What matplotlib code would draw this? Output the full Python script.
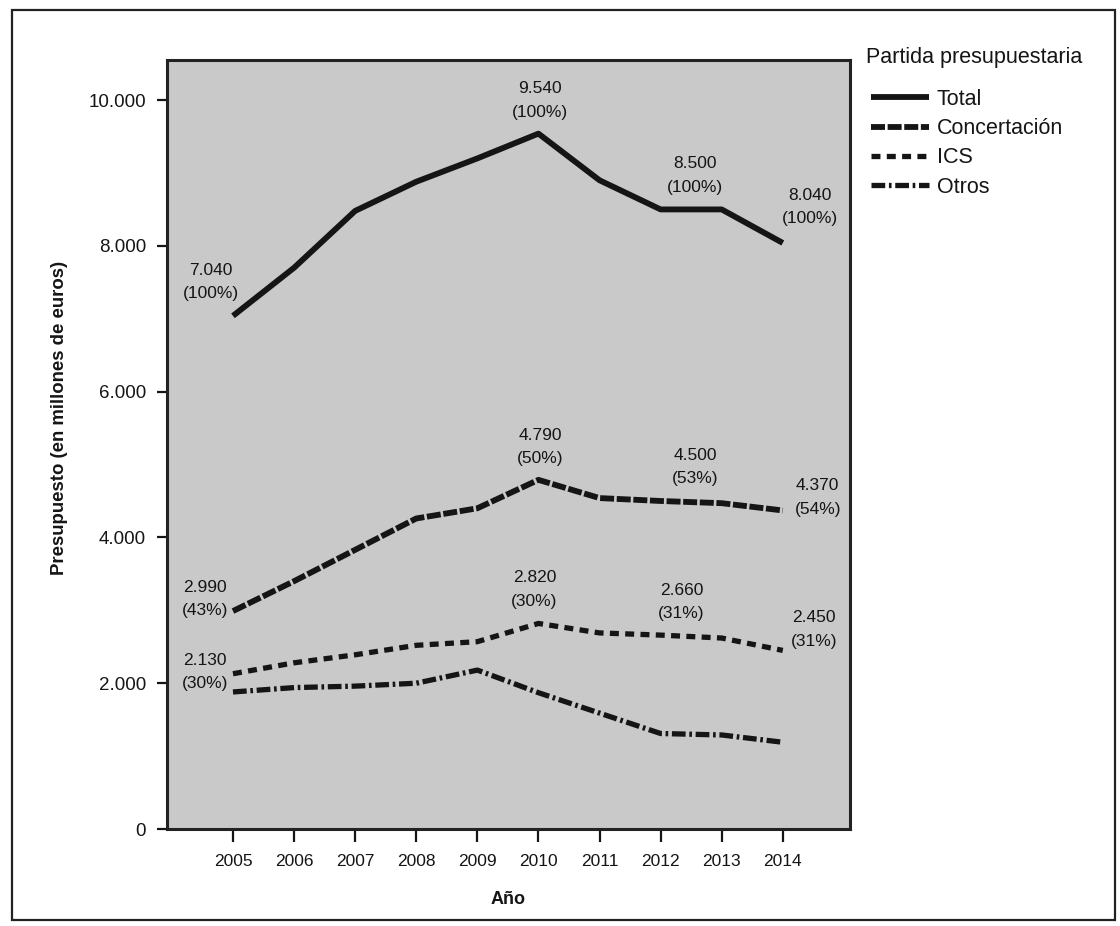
import matplotlib
matplotlib.use("Agg")
import matplotlib.pyplot as plt
from matplotlib.patches import Rectangle

# Budget by line item, in millions of euros
years = [2005, 2006, 2007, 2008, 2009, 2010, 2011, 2012, 2013, 2014]
total = [7040, 7700, 8480, 8880, 9200, 9540, 8900, 8500, 8500, 8040]
concertacion = [2990, 3400, 3830, 4260, 4400, 4790, 4540, 4500, 4470, 4370]
ics = [2130, 2280, 2390, 2520, 2570, 2820, 2690, 2660, 2620, 2450]
otros = [1880, 1940, 1960, 2000, 2180, 1870, 1590, 1310, 1290, 1190]

series_names = ["Total", "Concertación", "ICS", "Otros"]

# Annotated points: (series index, year, share of total)
labelled = [
    (0, 2005, "100%"), (0, 2010, "100%"), (0, 2012, "100%"), (0, 2014, "100%"),
    (1, 2005, "43%"), (1, 2010, "50%"), (1, 2012, "53%"), (1, 2014, "54%"),
    (2, 2005, "30%"), (2, 2010, "30%"), (2, 2012, "31%"), (2, 2014, "31%"),
]

y_ticks = [0, 2000, 4000, 6000, 8000, 10000]
y_tick_labels = ["0", "2.000", "4.000", "6.000", "8.000", "10.000"]
x_tick_labels = [str(y) for y in years]

plt.rcParams["font.family"] = ["Liberation Sans", "DejaVu Sans"]
ink = "#151515"

fig = plt.figure(figsize=(11.2, 9.26), dpi=100)
fig.patch.set_facecolor("white")

# outer frame around the whole figure
fig.patches.append(Rectangle((12 / 1120, 1 - 920 / 926), (1115 - 12) / 1120,
                             (920 - 10) / 926, transform=fig.transFigure,
                             fill=False, edgecolor="#222222", linewidth=1.6))

ax = fig.add_axes([167 / 1120, 1 - 829 / 926, (850 - 167) / 1120, (829 - 60) / 926])
ax.set_facecolor("#c9c9c9")

styles = [
    dict(linestyle="-", linewidth=4.2),
    dict(linestyle=(0, (2.4, 0.45)), linewidth=4.2),
    dict(linestyle=(0, (1.7, 1.2)), linewidth=3.8),
    dict(linestyle=(0, (2.6, 0.7, 0.5, 0.7)), linewidth=3.8),
]
data = [total, concertacion, ics, otros]
for name, vals, st in zip(series_names, data, styles):
    ax.plot(years, vals, color=ink, label=name, solid_capstyle="butt",
            dash_capstyle="butt", solid_joinstyle="round", **st)

# label offsets in pixels relative to each point (dx, dy)
offsets = {
    (0, 2005): (-22, 34), (0, 2010): (2, 33), (0, 2012): (34, 34), (0, 2014): (27, 36),
    (1, 2005): (-28, 12), (1, 2010): (2, 33), (1, 2012): (35, 34), (1, 2014): (35, 13),
    (2, 2005): (-28, 2), (2, 2010): (-4, 34), (2, 2012): (21, 33), (2, 2014): (31, 21),
}
for si, yr, share in labelled:
    v = data[si][years.index(yr)]
    txt = f"{v:,}".replace(",", ".") + f"\n({share})"
    dx, dy = offsets[(si, yr)]
    ax.annotate(txt, xy=(yr, v), xytext=(dx, dy), textcoords="offset pixels",
                ha="center", va="center", fontsize=12.5, color=ink, linespacing=1.7)

ax.set_xlim(2003.92, 2015.10)
ax.set_ylim(0, 10550)
ax.set_xticks(years)
ax.set_xticklabels(x_tick_labels)
ax.set_yticks(y_ticks)
ax.set_yticklabels(y_tick_labels)
ax.tick_params(axis="both", colors=ink, width=1.6, direction="out")
ax.tick_params(axis="y", length=7, pad=8, labelsize=13.5)
ax.tick_params(axis="x", length=9, pad=9, labelsize=12.5)
for sp in ax.spines.values():
    sp.set_color("#222222")
    sp.set_linewidth(2.2)

ax.set_xlabel("Año", fontsize=13, fontweight="bold", color=ink, labelpad=16)
ax.set_ylabel("Presupuesto (en millones de euros)", fontsize=13.4,
              fontweight="bold", color=ink)
ax.yaxis.set_label_coords(-0.145, 0.534)

fig.text(866 / 1120, 1 - 57 / 926, "Partida presupuestaria", fontsize=15.5,
         color=ink, ha="left", va="center")
leg = ax.legend(loc="upper left", bbox_to_anchor=(871 / 1120, 1 - 89 / 926),
                bbox_transform=fig.transFigure, frameon=False, fontsize=15.5,
                handlelength=2.7, handletextpad=0.35, labelspacing=0.38,
                borderpad=0, borderaxespad=0)
for t in leg.get_texts():
    t.set_color(ink)

fig.savefig("out.png", dpi=100, facecolor="white")
